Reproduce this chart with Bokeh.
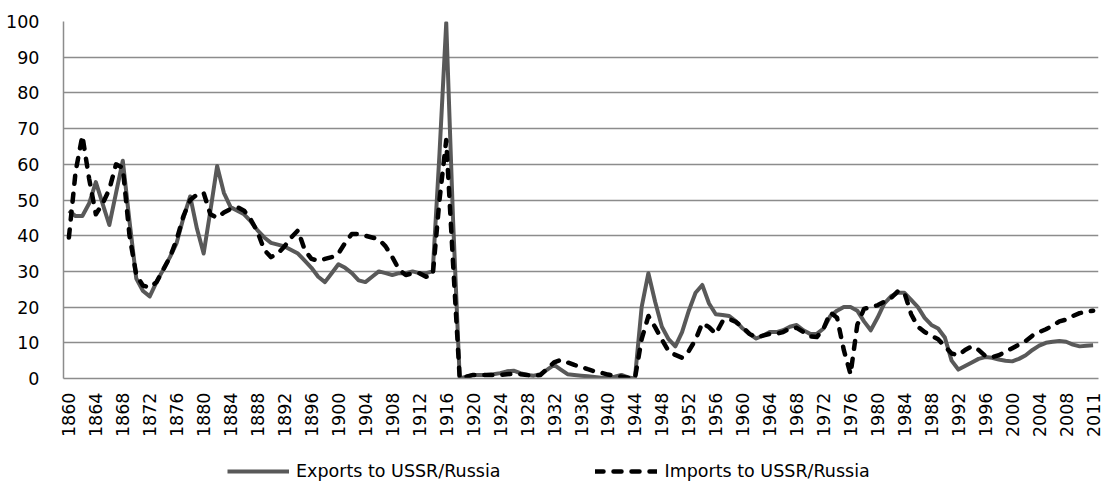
import math
from bokeh.plotting import figure
from bokeh.layouts import column
from bokeh.models import ColumnDataSource, FixedTicker, Legend, LegendItem
from bokeh.embed import file_html
from bokeh.resources import INLINE

# Category positions (one per year; the last category is labelled "2011" on the axis)
years = list(range(1860, 2013))

exports = [
    47, 45.5, 45.5, 49, 55, 49, 43, 52, 61, 44,            # 1860s
    28, 24.5, 23, 27, 30.5, 34, 38, 45, 51, 42,            # 1870s
    35, 47, 59.5, 52, 48, 47, 46, 44, 41.5, 39.5,          # 1880s
    38, 37.5, 37, 36, 35, 33, 31, 28.5, 27, 29.5,          # 1890s
    32, 31, 29.5, 27.5, 27, 28.5, 30, 29.5, 29, 29.5,      # 1900s
    29.5, 30, 29.5, 29.5, 30, 63, 99.6, 45, 0, 0.5,        # 1910s
    1, 1, 1, 1.2, 1.5, 2, 2.2, 1.5, 1, 0.8,                # 1920s
    1.2, 2.5, 3.8, 2.5, 1.2, 1, 0.8, 0.6, 0.4, 0.2,        # 1930s
    0.3, 0.5, 1, 0.3, 0, 20, 29.5, 21.5, 14.5, 11,         # 1940s
    9, 13, 19, 24, 26.2, 21, 18, 17.8, 17.5, 16,           # 1950s
    14, 12.5, 11.2, 12, 13, 13, 13.5, 14.5, 15, 13.5,      # 1960s
    12.5, 12.5, 14, 17.5, 19, 20, 20, 19, 16, 13.5,        # 1970s
    17, 21, 23, 24, 24, 22, 20, 17, 15, 14,                # 1980s
    11.5, 5, 2.5, 3.5, 4.5, 5.5, 6, 5.8, 5.3, 5,           # 1990s
    4.8, 5.5, 6.5, 8, 9.2, 10, 10.3, 10.5, 10.3, 9.5,      # 2000s
    9.0, 9.2, 9.3,                                         # 2010s
]

imports = [
    39.5, 58, 68, 56, 46, 49, 53, 60, 59, 40,              # 1860s
    29, 26, 25.5, 27, 30.5, 34, 39, 45.5, 50, 51.5,        # 1870s
    52, 46, 45, 46.5, 47.5, 48, 47, 44.5, 41, 36,          # 1880s
    34, 35, 37, 39.5, 41.5, 36, 33.5, 33, 33.5, 34,        # 1890s
    35, 38, 40.5, 40.5, 40, 39.5, 39, 37, 34, 30.5,        # 1900s
    29, 29.5, 29.5, 28.5, 29, 50, 66.8, 32.7, 0, 0.5,      # 1910s
    1, 1, 1, 1, 1, 1.2, 1.3, 1.2, 1, 0.7,                  # 1920s
    1, 2.8, 4.5, 5.2, 4.5, 3.8, 3.3, 2.6, 2, 1.6,          # 1930s
    1.1, 0.8, 0.5, 0.2, 0, 11, 17.5, 14.4, 10.9, 7.7,      # 1940s
    6.6, 5.8, 7.7, 10.9, 15.5, 14.4, 12.5, 16, 16.7, 15.8, # 1950s
    14.4, 12.5, 11.5, 12, 12.5, 12.5, 13, 14, 14.2, 13,    # 1960s
    11.8, 11.6, 14, 18.5, 17, 8, 1.2, 15, 19.5, 20,        # 1970s
    20.5, 21.5, 22.5, 24.4, 24, 18, 14.5, 13, 12, 11,      # 1980s
    9, 7, 6.5, 8, 9, 8, 6.3, 6, 6.5, 7.5,                  # 1990s
    8.5, 9.5, 10.5, 12, 13, 13.8, 14.8, 16, 16.5, 17.5,    # 2000s
    18.3, 18.7, 19,                                        # 2010s
]

tick_positions = list(range(1860, 2009, 4)) + [2012]
tick_labels = {t: str(t) for t in range(1860, 2009, 4)}
tick_labels[2012] = "2011"
y_ticks = list(range(0, 101, 10))

series_names = ["Exports to USSR/Russia", "Imports to USSR/Russia"]

src = ColumnDataSource(dict(year=years, exports=exports, imports=imports))

FONT = "DejaVu Sans"
FSIZE = "17.5px"
GRID = "#8c8c8c"
EXP_STYLE = dict(line_color="#595959", line_width=4, line_join="round")
IMP_STYLE = dict(line_color="black", line_width=4.5, line_dash="8 10",
                 line_cap="round", line_join="round")

p = figure(width=1108, height=440, x_range=(1859.2, 2012.8), y_range=(0, 100),
           output_backend="svg", toolbar_location=None,
           min_border_left=63, min_border_right=10, min_border_top=21, min_border_bottom=58)
p.outline_line_color = None
p.background_fill_color = "white"
p.border_fill_color = "white"

p.xgrid.visible = False
p.ygrid.grid_line_color = GRID
p.ygrid.grid_line_width = 1.5
p.ygrid.ticker = FixedTicker(ticks=y_ticks)

p.yaxis.ticker = FixedTicker(ticks=y_ticks)
p.xaxis.ticker = FixedTicker(ticks=tick_positions)
p.xaxis.major_label_overrides = tick_labels
p.xaxis.major_label_orientation = math.pi / 2

for ax in (p.xaxis, p.yaxis):
    ax.axis_line_color = GRID
    ax.axis_line_width = 1.5
    ax.major_tick_line_color = None
    ax.minor_tick_line_color = None
    ax.major_label_text_font = FONT
    ax.major_label_text_font_size = FSIZE
    ax.major_label_text_color = "black"
p.yaxis.major_label_standoff = 18
p.xaxis.major_label_standoff = 8

p.line(x="year", y="exports", source=src, **EXP_STYLE)
p.line(x="year", y="imports", source=src, **IMP_STYLE)

# Legend strip below the chart (its renderers hold no drawable data; they only
# provide the legend swatches)
pl = figure(width=1108, height=55, x_range=(0, 1), y_range=(0, 1),
            output_backend="svg", toolbar_location=None,
            x_axis_type=None, y_axis_type=None,
            min_border_left=0, min_border_right=0, min_border_top=0, min_border_bottom=0)
pl.outline_line_color = None
pl.grid.visible = False
pl.border_fill_color = "white"
nan = float("nan")
swatch_src = ColumnDataSource(dict(x=[nan], y=[nan]))
le = pl.line(x="x", y="y", source=swatch_src, **EXP_STYLE)
li = pl.line(x="x", y="y", source=swatch_src, **IMP_STYLE)

legend = Legend(items=[LegendItem(label=series_names[0], renderers=[le]),
                       LegendItem(label=series_names[1], renderers=[li])],
                orientation="horizontal", location=(164, 14),
                border_line_color=None, background_fill_alpha=0,
                glyph_width=62, glyph_height=20, label_standoff=7, spacing=95,
                padding=0, margin=0,
                label_text_font=FONT, label_text_font_size=FSIZE,
                label_text_color="black")
pl.add_layout(legend)

layout = column(p, pl, spacing=0)
open("out.html", "w").write(file_html(layout, INLINE))
